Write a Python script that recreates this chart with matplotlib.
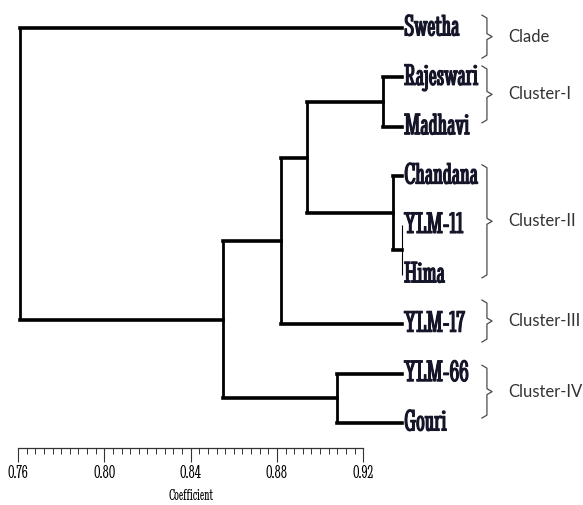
import numpy as np
import matplotlib
matplotlib.use('Agg')
import matplotlib.pyplot as plt
import matplotlib.patheffects as pe
from matplotlib.ticker import FixedLocator

# leaves top to bottom
leaves = ['Swetha', 'Rajeswari', 'Madhavi', 'Chandana', 'YLM-11', 'Hima',
          'YLM-17', 'YLM-66', 'Gouri']
leaf_level = 0.938
# (child a, child b, coefficient) ; new nodes numbered from len(leaves)
merges = [(4, 5, 0.938),
          (1, 2, 0.929),
          (3, 9, 0.934),
          (10, 11, 0.894),
          (12, 6, 0.882),
          (7, 8, 0.908),
          (13, 14, 0.855),
          (0, 15, 0.761)]
groups = ['Clade', 'Cluster-I', 'Cluster-II', 'Cluster-III', 'Cluster-IV']
group_spans = [(-0.26, 0.61), (0.77, 1.92), (2.77, 5.06), (5.51, 6.36), (6.83, 7.90)]
ticks = [0.76, 0.80, 0.84, 0.88, 0.92]

cond = 'Stint Ultra Condensed'
fig = plt.figure(figsize=(5.83, 5.05), dpi=100)
ax = fig.add_axes([0, 0, 1, 1])
ax.set_xlim(0.76 - 18 / 2158, 0.76 + 565 / 2158)
ax.set_ylim((505 - 28) / 49.375, -28 / 49.375)

pos = {i: (leaf_level, i) for i in range(len(leaves))}
for k, (a, b, h) in enumerate(merges):
    xa, ya = pos[a]
    xb, yb = pos[b]
    thin = h >= leaf_level
    ax.plot([h, h], [ya, yb], color='black', lw=0.8 if thin else 2.0,
            solid_capstyle='butt')
    for xc, yc in [(xa, ya), (xb, yb)]:
        if xc > h:
            ax.plot([h, xc], [yc, yc], color='black', lw=2.6,
                    solid_capstyle='projecting')
    pos[len(leaves) + k] = (h, (ya + yb) / 2)

bold = [pe.withStroke(linewidth=0.8, foreground='#15152a')]
for i, name in enumerate(leaves):
    ax.annotate(name, (leaf_level, i), xytext=(1.5, 0), textcoords='offset points',
                ha='left', va='center', fontsize=22, family=cond,
                color='#15152a', path_effects=bold)

# brackets
bx0, bx1, bx2 = 0.975, 0.9773, 0.9797
for g, (top, bot) in zip(groups, group_spans):
    mid = (top + bot) / 2
    ax.plot([bx0, bx1, bx1, bx2, bx1, bx1, bx0],
            [top, top + 0.06, mid - 0.06, mid, mid + 0.06, bot - 0.06, bot],
            color='#4a4a4a', lw=0.9)
    ax.text(0.987, mid, g, ha='left', va='center', fontsize=12,
            family='Lato', color='#333333')

# ruler axis
for s in ['top', 'right', 'left']:
    ax.spines[s].set_visible(False)
ax.spines['bottom'].set_position(('data', 420 / 49.375))
ax.spines['bottom'].set_bounds(0.76, 0.92)
ax.spines['bottom'].set_linewidth(0.9)
ax.spines['bottom'].set_color('#333333')
ax.set_yticks([])
ax.set_xticks(ticks)
ax.xaxis.set_minor_locator(FixedLocator(np.arange(0.76, 0.9201, 0.004)))
ax.set_xticklabels(['%.2f' % t for t in ticks], family=cond, fontsize=14)
ax.tick_params(axis='x', which='major', length=10, width=0.8, color='#333333', pad=2)
ax.tick_params(axis='x', which='minor', length=4.5, width=0.7, color='#333333')
ax.text(0.84, (496 - 28) / 49.375, 'Coefficient', ha='center', va='center',
        family=cond, fontsize=12)

fig.savefig('out.png', dpi=100)
